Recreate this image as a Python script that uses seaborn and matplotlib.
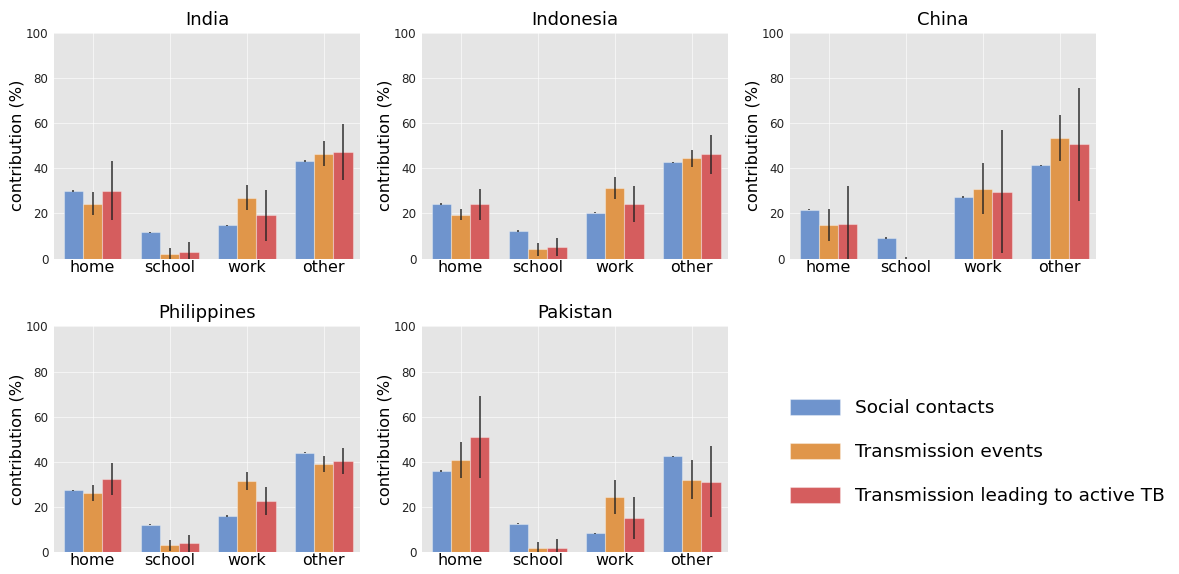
import numpy as np
import pandas as pd
import matplotlib
matplotlib.use("Agg")
import matplotlib.pyplot as plt
import seaborn as sns

# Settings and countries
settings = ["home", "school", "work", "other"]
countries = ["India", "Indonesia", "China", "Philippines", "Pakistan"]
measures = ["Social contacts", "Transmission events", "Transmission leading to active TB"]

# Social contacts: central estimate and interval (%)
contacts_mean = {
    "India":       [30.0, 11.6, 14.7, 43.2],
    "Indonesia":   [24.2, 12.2, 20.3, 42.7],
    "China":       [21.7, 9.1, 27.3, 41.4],
    "Philippines": [27.3, 12.1, 15.9, 44.0],
    "Pakistan":    [35.9, 12.5, 8.3, 42.4],
}
contacts_lo = {
    "India":       [29.6, 11.3, 14.4, 42.9],
    "Indonesia":   [23.9, 11.9, 20.0, 42.4],
    "China":       [21.4, 8.8, 27.0, 41.1],
    "Philippines": [27.0, 11.8, 15.5, 43.7],
    "Pakistan":    [35.6, 12.2, 8.0, 42.1],
}
contacts_hi = {
    "India":       [30.4, 11.9, 15.0, 43.5],
    "Indonesia":   [24.5, 12.5, 20.7, 43.0],
    "China":       [22.0, 9.5, 27.7, 41.7],
    "Philippines": [27.6, 12.4, 16.4, 44.3],
    "Pakistan":    [36.2, 12.8, 8.6, 42.7],
}

# Transmission events (%)
events_mean = {
    "India":       [24.1, 2.2, 26.8, 46.3],
    "Indonesia":   [19.4, 4.3, 31.3, 44.4],
    "China":       [15.0, 0.0, 31.0, 53.4],
    "Philippines": [26.0, 3.1, 31.3, 38.9],
    "Pakistan":    [40.8, 1.7, 24.4, 32.1],
}
events_lo = {
    "India":       [19.1, 0.0, 21.6, 41.0],
    "Indonesia":   [17.0, 1.0, 26.5, 40.4],
    "China":       [8.0, 0.0, 19.8, 43.3],
    "Philippines": [22.5, 0.6, 27.4, 35.6],
    "Pakistan":    [32.7, 0.0, 17.0, 23.7],
}
events_hi = {
    "India":       [29.3, 4.5, 32.4, 51.9],
    "Indonesia":   [22.0, 7.0, 36.2, 48.2],
    "China":       [21.9, 0.7, 42.5, 63.6],
    "Philippines": [29.5, 5.5, 35.3, 42.5],
    "Pakistan":    [48.9, 4.6, 32.0, 40.6],
}

# Transmission leading to active TB (%)
active_mean = {
    "India":       [30.0, 3.1, 19.2, 47.2],
    "Indonesia":   [24.1, 5.0, 24.2, 46.3],
    "China":       [15.4, 0.0, 29.6, 50.6],
    "Philippines": [32.3, 4.0, 22.6, 40.4],
    "Pakistan":    [51.1, 1.6, 15.2, 31.1],
}
active_lo = {
    "India":       [16.9, 0.0, 8.0, 34.9],
    "Indonesia":   [17.2, 1.0, 16.0, 37.6],
    "China":       [0.0, 0.0, 2.5, 25.7],
    "Philippines": [25.2, 0.0, 16.3, 34.7],
    "Pakistan":    [33.0, 0.0, 5.9, 15.4],
}
active_hi = {
    "India":       [43.3, 7.5, 30.6, 59.5],
    "Indonesia":   [30.9, 8.9, 32.2, 54.9],
    "China":       [32.0, 0.0, 57.0, 75.7],
    "Philippines": [39.6, 7.7, 29.0, 46.1],
    "Pakistan":    [69.2, 5.9, 24.6, 47.0],
}

palette = ["#6F94CD", "#E0964A", "#D55D5E"]

# Long-form table built from the arrays above
rows = []
for country in countries:
    for measure, m, lo, hi in [
        (measures[0], contacts_mean, contacts_lo, contacts_hi),
        (measures[1], events_mean, events_lo, events_hi),
        (measures[2], active_mean, active_lo, active_hi),
    ]:
        for i, s in enumerate(settings):
            rows.append(dict(country=country, setting=s, measure=measure,
                             value=m[country][i], lo=lo[country][i], hi=hi[country][i]))
df = pd.DataFrame(rows)

plt.style.use("ggplot")
plt.rcParams["font.family"] = ["DejaVu Sans"]
plt.rcParams["axes.facecolor"] = "#E5E5E5"

fig, axes = plt.subplots(2, 3, figsize=(11.79, 5.74), dpi=100)
fig.subplots_adjust(left=0.0458, right=0.9296, top=0.9425, bottom=0.0383,
                    wspace=0.2026, hspace=0.301)

for ax, country in zip(axes.flat, countries):
    sub = df[df.country == country]
    sns.barplot(data=sub, x="setting", y="value", hue="measure", order=settings,
                hue_order=measures, palette=palette, errorbar=None, width=0.75,
                edgecolor=(1, 1, 1, 0.35), linewidth=0.8, saturation=1, ax=ax,
                legend=False)
    # asymmetric intervals on top of each bar
    for measure, container in zip(measures, ax.containers):
        d = sub[sub.measure == measure].set_index("setting").loc[settings]
        xs = [b.get_x() + b.get_width() / 2 for b in container]
        ax.errorbar(xs, d["value"], yerr=[d["value"] - d["lo"], d["hi"] - d["value"]],
                    fmt="none", ecolor="#222222", elinewidth=1.2, capsize=0, alpha=0.85)
    ax.set_ylim(0, 100)
    ax.set_xlim(-0.5, 3.47)
    ax.set_yticks([0, 20, 40, 60, 80, 100])
    ax.set_title(country, fontsize=13, color="black", pad=6)
    ax.set_xlabel("")
    ax.set_ylabel("contribution (%)", fontsize=11.7, color="black", labelpad=1)
    ax.tick_params(axis="y", length=0, pad=4, labelsize=8.6, labelcolor="#222222")
    ax.tick_params(axis="x", length=0, pad=1, labelsize=11.4, labelcolor="black")
    ax.grid(True, color="white", linewidth=0.6, alpha=0.7)
    ax.set_axisbelow(True)
    for sp in ax.spines.values():
        sp.set_visible(False)

axes[1, 2].axis("off")

handles = [plt.Rectangle((0, 0), 1, 1, facecolor=c, edgecolor=(1, 1, 1, 0.35), linewidth=0.8)
           for c in palette]
fig.legend(handles, measures, loc="center left",
           bbox_to_anchor=(790 / 1179, 1 - 452 / 574), frameon=False,
           fontsize=13.3, handlelength=2.7, handleheight=1.0, handletextpad=0.8,
           labelspacing=1.38, borderpad=0, borderaxespad=0, labelcolor="black")

fig.savefig("out.png", dpi=100)
